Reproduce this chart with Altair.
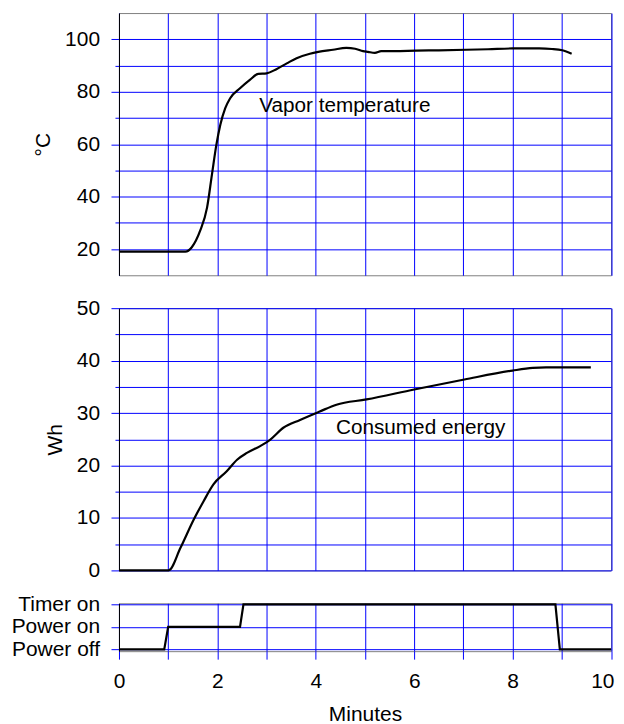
import altair as alt
import pandas as pd

# ---- data ----
temp_t = [0, 1.35, 1.48, 1.65, 1.79, 1.89, 1.98, 2.06, 2.16, 2.26, 2.46, 2.66, 2.83, 3.0, 3.2,
          3.41, 3.61, 3.88, 4.05, 4.35, 4.62, 4.8, 4.96, 5.06, 5.2, 5.33, 5.6, 6.04, 6.5, 7.06,
          7.5, 8.0, 8.54, 8.8, 9.01, 9.2]
temp_v = [19, 19, 20.7, 27, 35.8, 48.5, 59.8, 67.4, 73.7, 77.5, 81.3, 84.5, 86.8, 87, 88.6,
          90.8, 92.8, 94.5, 95.2, 96, 96.7, 96.4, 95.5, 95.2, 94.8, 95.5, 95.5, 95.7, 95.8, 96,
          96.2, 96.5, 96.5, 96.3, 95.8, 94.5]

en_t = [0, 1.01, 1.25, 1.52, 1.72, 1.92, 2.19, 2.4, 2.6, 2.87, 3.07, 3.34, 3.68, 4.08, 4.42,
        5.03, 6.0, 7.02, 8.0, 8.41, 8.68, 9.59]
en_v = [0, 0, 4.3, 9.7, 13.2, 16.4, 18.9, 21.1, 22.4, 23.7, 24.9, 27.2, 28.7, 30.3, 31.6,
        32.6, 34.5, 36.4, 38.1, 38.6, 38.7, 38.7]

st_t = [0, 0.92, 1.0, 2.46, 2.53, 8.87, 8.96, 10]
st_v = [0, 0, 1, 1, 2, 2, 0, 0]
st_labels = ["Power off", "Power on", "Timer on"]

temp_label = ["Vapor temperature"]
temp_label_pos = [2.85, 74.6]
en_label = ["Consumed energy"]
en_label_pos = [4.41, 27.2]

x_ticks = list(range(0, 11))
temp_ticks = list(range(20, 101, 10))
en_ticks = list(range(0, 51, 5))

# ---- styling ----
FONT = "Liberation Sans"
BLUE = "#0000ff"
W = 493.5

df_temp = pd.DataFrame({"t": temp_t, "v": temp_v})
df_en = pd.DataFrame({"t": en_t, "v": en_v})
df_st = pd.DataFrame({"t": st_t, "v": st_v})
df_tl = pd.DataFrame({"t": [temp_label_pos[0]], "v": [temp_label_pos[1]], "txt": temp_label})
df_el = pd.DataFrame({"t": [en_label_pos[0]], "v": [en_label_pos[1]], "txt": en_label})

xscale = alt.Scale(domain=[0, 10], nice=False, zero=False)

x_hidden = alt.X("t:Q", scale=xscale,
                 axis=alt.Axis(values=x_ticks, tickCount=30, labels=False, ticks=False,
                               domain=False, title=None, grid=True, gridColor=BLUE,
                               gridOpacity=1))

line_kw = dict(color="black", strokeWidth=2.2)

def yaxis(values, major_mod, title):
    return alt.Axis(values=values, tickCount=30, format="d", title=title,
                    labelExpr=f"datum.value % {major_mod} === 0 ? datum.label : ''",
                    labelOverlap=False,
                    tickSize={"condition": {"test": f"datum.value % {major_mod} === 0", "value": 8},
                              "value": 4},
                    tickColor=BLUE, grid=True, gridColor=BLUE, gridOpacity=1,
                    domainColor="black", labelPadding=11.5, titlePadding=11)

# top panel
top_line = alt.Chart(df_temp).mark_line(interpolate="monotone", **line_kw).encode(
    x=x_hidden,
    y=alt.Y("v:Q", scale=alt.Scale(domain=[10, 110], nice=False, zero=False),
            axis=yaxis(temp_ticks, 20, "°C")),
)
top_text = alt.Chart(df_tl).mark_text(align="left", baseline="middle", font=FONT,
                                      fontSize=20.8, color="black").encode(
    x=alt.X("t:Q", scale=xscale), y="v:Q", text="txt:N")
top = alt.layer(top_line, top_text).properties(width=W, height=263)

# middle panel
mid_line = alt.Chart(df_en).mark_line(interpolate="monotone", **line_kw).encode(
    x=x_hidden,
    y=alt.Y("v:Q", scale=alt.Scale(domain=[0, 50], nice=False),
            axis=yaxis(en_ticks, 10, "Wh")),
)
mid_text = alt.Chart(df_el).mark_text(align="left", baseline="middle", font=FONT,
                                      fontSize=20.8, color="black").encode(
    x=alt.X("t:Q", scale=xscale), y="v:Q", text="txt:N")
mid = alt.layer(mid_line, mid_text).properties(width=W, height=263)

# bottom panel
label_js = "[" + ",".join(f"'{s}'" for s in st_labels) + "]"
bot = alt.Chart(df_st).mark_line(interpolate="linear", **line_kw).encode(
    x=alt.X("t:Q", scale=xscale, title="Minutes",
            axis=alt.Axis(values=x_ticks, tickCount=30, format="d",
                          labelExpr="datum.value % 2 === 0 ? datum.label : ''",
                          labelOverlap=False, labelFlush=False,
                          labelAlign={"condition": {"test": "datum.value === 10", "value": "right"},
                                      "value": "center"},
                          labelOffset={"condition": {"test": "datum.value === 10", "value": 3},
                                       "value": 0},
                          tickColor=BLUE, tickSize=8, grid=True, gridColor=BLUE, gridOpacity=1,
                          domain=False, labelPadding=11.3, titlePadding=12.5)),
    y=alt.Y("v:Q", scale=alt.Scale(domain=[-0.075, 2.044], nice=False, zero=False),
            axis=alt.Axis(values=[0, 1, 2], tickCount=30, title=None,
                          labelExpr=f"{label_js}[datum.value]", labelOverlap=False,
                          tickColor=BLUE, tickSize=8, grid=True, gridColor=BLUE, gridOpacity=1,
                          domainColor="black", labelPadding=11.5)),
).properties(width=W, height=48)

chart = alt.vconcat(top, mid, bot, spacing=33, bounds="flush").properties(
    padding={"left": 2.3, "top": 3, "right": 0, "bottom": 0}
).configure(font=FONT).configure_view(
    stroke="#808080", strokeWidth=1
).configure_axis(
    labelFont=FONT, labelFontSize=21, labelColor="black",
    titleFont=FONT, titleFontSize=21, titleFontWeight="normal", titleColor="black",
    gridWidth=1, tickWidth=1, domainWidth=1,
)

chart.save("out.html", embed_options={"renderer": "svg", "actions": False})
